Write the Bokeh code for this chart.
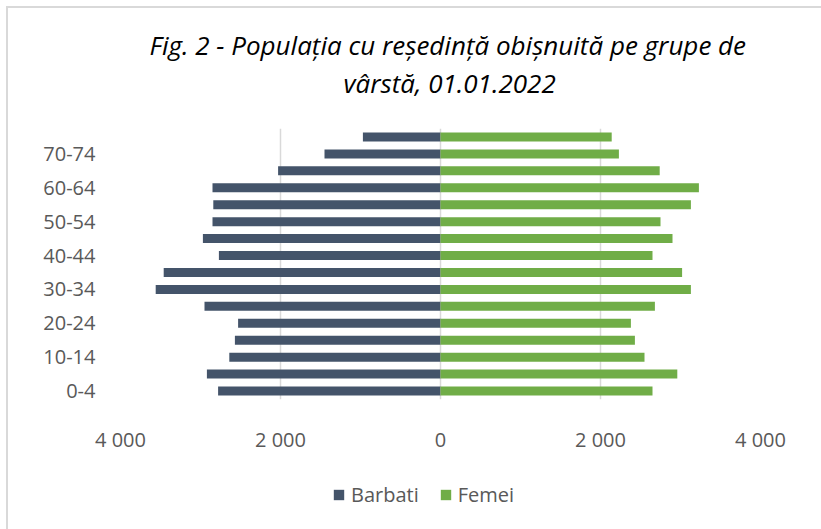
from bokeh.plotting import figure
from bokeh.layouts import column
from bokeh.models import Range1d, FixedTicker, Title, Legend, LegendItem, ColumnDataSource
from bokeh.embed import file_html
from bokeh.resources import INLINE

age_groups = ["0-4", "5-9", "10-14", "15-19", "20-24", "25-29", "30-34", "35-39",
              "40-44", "45-49", "50-54", "55-59", "60-64", "65-69", "70-74", "75+"]
barbati = [2780, 2920, 2640, 2570, 2530, 2950, 3560, 3460,
           2770, 2970, 2850, 2840, 2850, 2030, 1450, 970]
femei = [2650, 2960, 2550, 2430, 2380, 2680, 3130, 3020,
         2650, 2900, 2750, 3130, 3230, 2740, 2230, 2140]
shown_labels = ["0-4", "10-14", "20-24", "30-34", "40-44", "50-54", "60-64", "70-74"]
x_ticks = [-4000, -2000, 0, 2000, 4000]
x_tick_labels = ["4 000", "2 000", "0", "2 000", "4 000"]
title_lines = ["Fig. 2 - Populația cu reședință obișnuită pe grupe de", "vârstă, 01.01.2022"]
series_names = ["Barbati", "Femei"]
colors = ["#44546a", "#70ad47"]

y_pos = list(range(len(age_groups)))
src = ColumnDataSource(dict(y=y_pos,
                            men_left=[-v for v in barbati],
                            zero=[0] * len(age_groups),
                            women=femei))

p = figure(width=813, height=460, y_range=Range1d(-0.5, len(age_groups) - 0.5),
           x_range=Range1d(-4000, 4000),
           output_backend="svg", toolbar_location=None,
           min_border_left=112, min_border_right=61, min_border_top=120, min_border_bottom=69)
p.outline_line_color = None
p.background_fill_color = "white"

bar_specs = [dict(left="men_left", right="zero"), dict(left="zero", right="women")]
for spec, c in zip(bar_specs, colors):
    p.hbar(y="y", height=0.53, source=src, fill_color=c, line_color=None, **spec)

p.ygrid.grid_line_color = None
p.xgrid.grid_line_color = "#d9d9d9"
p.xgrid.grid_line_width = 1.5
p.xaxis.ticker = FixedTicker(ticks=x_ticks)
p.xaxis.major_label_overrides = {t: l for t, l in zip(x_ticks, x_tick_labels)}
y_ticks = [age_groups.index(a) for a in shown_labels]
p.yaxis.ticker = FixedTicker(ticks=y_ticks)
p.yaxis.major_label_overrides = {age_groups.index(a): a for a in shown_labels}

for ax in (p.xaxis, p.yaxis):
    ax.axis_line_color = None
    ax.major_tick_line_color = None
    ax.minor_tick_line_color = None
    ax.major_label_text_color = "#595959"
    ax.major_label_text_font = "Open Sans"
    ax.major_label_text_font_size = "20px"
p.xaxis.major_label_standoff = 20
p.yaxis.major_label_standoff = 19

# spacer between the plot area and the two title lines
p.add_layout(Title(text=" ", text_font_size="1px", standoff=25), "above")
p.add_layout(Title(text=title_lines[1], align="left", offset=223, standoff=0,
                   text_font="Open Sans", text_font_style="italic",
                   text_font_size="26px", text_color="#000000"), "above")
p.add_layout(Title(text=title_lines[0], align="left", offset=29, standoff=0,
                   text_font="Open Sans", text_font_style="italic",
                   text_font_size="26px", text_color="#000000"), "above")

# legend strip below the chart (hidden proxy renderers on the same data)
lg = figure(width=813, height=61, x_range=Range1d(10000, 10001), y_range=Range1d(-100, -99),
            x_axis_type=None, y_axis_type=None, output_backend="svg",
            toolbar_location=None, min_border=0)
lg.outline_line_color = None
lg_r = [lg.hbar(y="y", height=0.53, source=src, fill_color=c, line_color=None,
                visible=False, **spec)
        for spec, c in zip(bar_specs, colors)]
legend = Legend(items=[LegendItem(label=n, renderers=[r]) for n, r in zip(series_names, lg_r)],
                orientation="horizontal", location=(212, 21),
                glyph_width=13, glyph_height=13, label_standoff=6, spacing=20,
                padding=0, margin=0, border_line_color=None, background_fill_alpha=0,
                inactive_fill_alpha=0,
                label_text_font="Open Sans", label_text_font_size="20px",
                label_text_color="#595959", label_height=13)
lg.add_layout(legend, "center")

layout = column(p, lg, spacing=0)
layout.styles = {"position": "relative", "left": "6px", "top": "6px",
                 "border-left": "2px solid #d9d9d9", "border-top": "2px solid #d9d9d9"}

open("out.html", "w").write(file_html(layout, INLINE))
